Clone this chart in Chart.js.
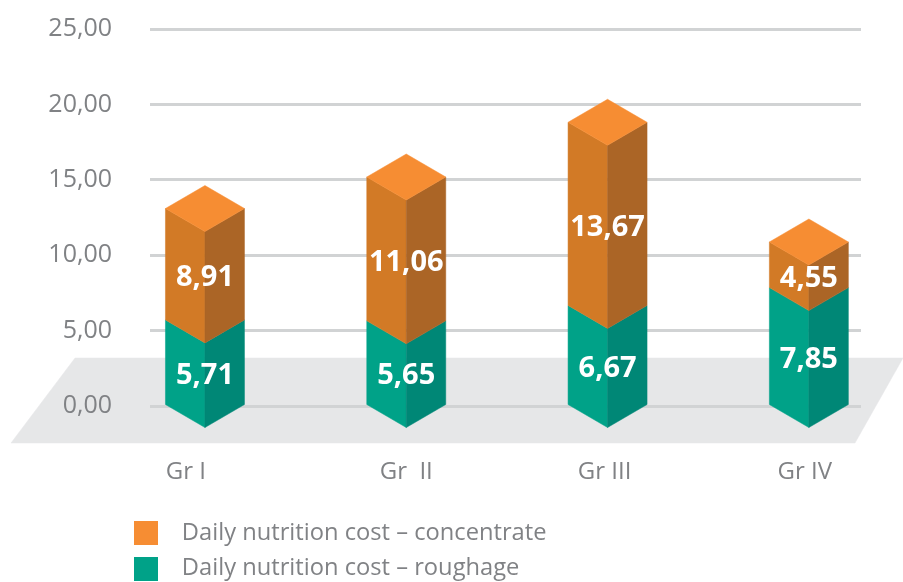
<!DOCTYPE html>
<html>
<head>
<meta charset="utf-8">
<style>html,body{margin:0;padding:0;background:#fff}#wrap{width:903px;height:582px}</style>
<script src="https://cdn.jsdelivr.net/npm/chart.js@4"></script>
</head>
<body>
<div id="wrap"><canvas id="c" width="903" height="582"></canvas></div>
<script>
const categories = ['Gr I', 'Gr  II', 'Gr III', 'Gr IV'];
const roughage = [5.71, 5.65, 6.67, 7.85];
const concentrate = [8.91, 11.06, 13.67, 4.55];
const seriesNames = ['Daily nutrition cost – roughage', 'Daily nutrition cost – concentrate'];
const yTicks = [0, 5, 10, 15, 20, 25];

const TEXT = '#808285';
const FONT = '"Open Sans", "Noto Sans", sans-serif';
const fmt = v => v.toFixed(2).replace('.', ',');
const asPoints = arr => arr.map((v, i) => ({x: i, y: v}));

function swatch(color) {
  const cv = document.createElement('canvas');
  cv.width = 36; cv.height = 24;
  const g = cv.getContext('2d');
  g.fillStyle = color;
  g.fillRect(0, 0, 24, 24);
  return cv;
}

function poly(ctx, pts, color) {
  ctx.beginPath();
  pts.forEach((p, i) => i ? ctx.lineTo(p[0], p[1]) : ctx.moveTo(p[0], p[1]));
  ctx.closePath();
  ctx.fillStyle = color;
  ctx.fill();
  ctx.strokeStyle = color;
  ctx.lineWidth = 0.5;
  ctx.stroke();
}

const floorPlugin = {
  id: 'floor',
  beforeDraw(chart) {
    const a = chart.chartArea, z = chart.scales.y.getPixelForValue(0);
    poly(chart.ctx, [[a.left - 75, z - 48], [chart.width, z - 48], [a.right - 6, z + 37], [a.left - 139, z + 37]], '#E6E7E8');
  }
};

const DEPTH = 23;
const prismPlugin = {
  id: 'prism',
  beforeDatasetsDraw(chart) {
    const ctx = chart.ctx;
    const sets = chart.data.datasets;
    sets.forEach((ds, di) => {
      const isTop = di === sets.length - 1;
      chart.getDatasetMeta(di).data.forEach((bar, i) => {
        const p = bar.getProps(['x', 'y', 'base', 'width'], true);
        const c = p.x, hw = p.width / 2;
        const yBase = p.base;
        const yTop = isTop ? p.y + DEPTH : p.y;
        poly(ctx, [[c - hw, yTop], [c, yTop + DEPTH], [c, yBase + DEPTH], [c - hw, yBase]], ds.backgroundColor);
        poly(ctx, [[c, yTop + DEPTH], [c + hw, yTop], [c + hw, yBase], [c, yBase + DEPTH]], ds.sideColor);
        if (isTop) {
          poly(ctx, [[c - hw, yTop], [c, yTop - DEPTH], [c + hw, yTop], [c, yTop + DEPTH]], ds.capColor);
        }
        ctx.fillStyle = '#fff';
        ctx.font = '700 29px ' + FONT;
        ctx.textAlign = 'center';
        ctx.textBaseline = 'middle';
        ctx.fillText(fmt(ds.data[i].y), c, (yTop + yBase) / 2 + DEPTH / 2 + 2);
      });
    });
    return false;
  }
};

const legendPlacer = {
  id: 'legendPlacer',
  afterLayout(chart) {
    const l = chart.legend;
    const w = l.width, h = l.height;
    l.left = 122; l.right = l.left + w;
    l.top = 509; l.bottom = l.top + h;
  }
};

new Chart(document.getElementById('c'), {
  type: 'bar',
  data: {
    datasets: [
      {label: seriesNames[0], data: asPoints(roughage), backgroundColor: '#00A288', sideColor: '#008776', barThickness: 79, stack: 's', pointStyleCanvas: swatch('#00A288')},
      {label: seriesNames[1], data: asPoints(concentrate), backgroundColor: '#D27A26', sideColor: '#AB6526', capColor: '#F68D33', barThickness: 79, stack: 's', pointStyleCanvas: swatch('#F68D33')}
    ]
  },
  plugins: [floorPlugin, prismPlugin, legendPlacer],
  options: {
    responsive: false,
    animation: false,
    devicePixelRatio: 1,
    layout: {padding: {top: 29, right: 42, left: 0, bottom: 0}},
    scales: {
      x: {
        type: 'linear',
        offset: false,
        min: -0.273,
        max: 3.259,
        grid: {display: false},
        border: {display: false},
        // the reference sets its group labels slightly off the bar centres
        afterBuildTicks(s) { s.ticks = [-0.095, 1, 1.985, 2.98].map(v => ({value: v})); },
        afterFit(s) { s.height = 176; },
        ticks: {
          autoSkip: false, maxRotation: 0, padding: 44,
          color: TEXT, font: {family: FONT, size: 24},
          callback: (v, i) => categories[i]
        }
      },
      y: {
        stacked: true,
        min: 0,
        max: 25,
        afterBuildTicks(s) { s.ticks = yTicks.map(v => ({value: v})); },
        afterFit(s) { s.width = 150; s.paddingTop = 0; s.paddingBottom = 0; },
        grid: {color: '#D1D3D4', lineWidth: 3, drawTicks: false},
        border: {display: false},
        ticks: {color: TEXT, font: {family: FONT, size: 25}, padding: 38, callback: v => fmt(v)}
      }
    },
    plugins: {
      tooltip: {enabled: false},
      legend: {
        position: 'chartArea',
        align: 'start',
        reverse: true,
        labels: {
          usePointStyle: true,
          pointStyleWidth: 36,
          boxHeight: 24,
          padding: 12,
          color: TEXT,
          font: {family: FONT, size: 23.7},
          generateLabels(chart) {
            return chart.data.datasets.map((ds, i) => ({
              text: ds.label, fontColor: TEXT, pointStyle: ds.pointStyleCanvas,
              hidden: false, datasetIndex: i, lineWidth: 0, strokeStyle: 'transparent', fillStyle: ds.backgroundColor
            }));
          }
        }
      }
    }
  }
});
</script>
</body>
</html>
